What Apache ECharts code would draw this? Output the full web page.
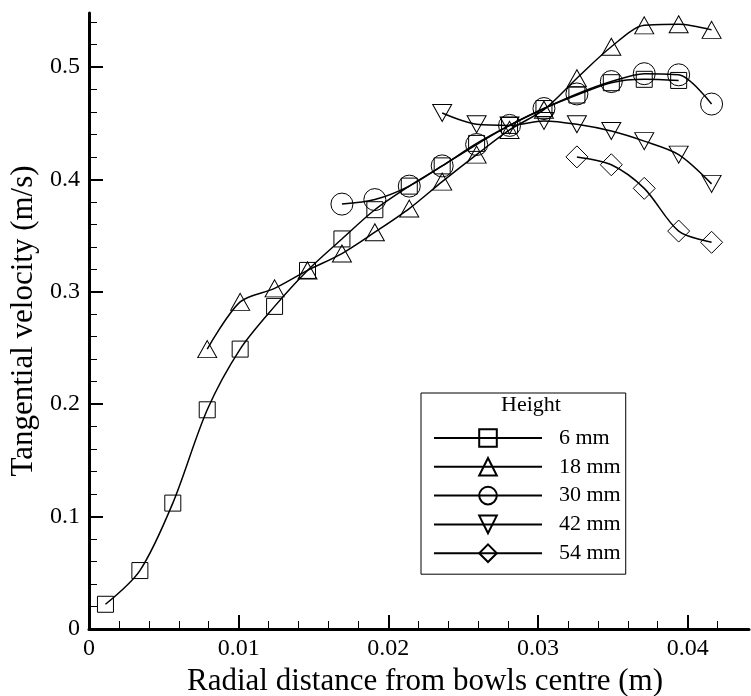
<!DOCTYPE html>
<html>
<head>
<meta charset="utf-8">
<script src="https://cdn.jsdelivr.net/npm/echarts@6/dist/echarts.min.js"></script>
<style>html,body{margin:0;padding:0;background:#fff}#c{width:751px;height:696px}</style>
</head>
<body>
<div id="c"></div>
<script>
// Radial positions of the measurement points (m)
const radial = [0.0011, 0.0034, 0.0056, 0.0079, 0.0101, 0.0124, 0.0146, 0.0169, 0.0191, 0.0214,
                0.0236, 0.0259, 0.0281, 0.0304, 0.0326, 0.0349, 0.0371, 0.0394, 0.0416];
// Tangential velocity (m/s) per height
const names = ['6 mm', '18 mm', '30 mm', '42 mm', '54 mm'];
const x6  = radial.slice(0, 18);
const v6  = [0.022, 0.052, 0.112, 0.195, 0.249, 0.287, 0.319, 0.347, 0.373, 0.394, 0.412, 0.432, 0.448, 0.463, 0.475, 0.486, 0.489, 0.488];
const x18 = radial.slice(3, 19);
const v18 = [0.249, 0.291, 0.303, 0.319, 0.334, 0.353, 0.374, 0.398, 0.422, 0.444, 0.462, 0.490, 0.518, 0.537, 0.538, 0.533];
const x30 = radial.slice(7, 19);
const v30 = [0.378, 0.382, 0.394, 0.412, 0.431, 0.448, 0.463, 0.476, 0.487, 0.494, 0.493, 0.467];
const x42 = radial.slice(10, 19);
const v42 = [0.459, 0.449, 0.448, 0.452, 0.449, 0.443, 0.434, 0.422, 0.396];
const x54 = radial.slice(14, 19);
const v54 = [0.420, 0.413, 0.392, 0.354, 0.344];

// Tick values
const xMajor = [0, 0.01, 0.02, 0.03, 0.04];
const xMinor = [0.002, 0.004, 0.006, 0.008, 0.012, 0.014, 0.016, 0.018, 0.022, 0.024, 0.026, 0.028, 0.032, 0.034, 0.036, 0.038, 0.042];
const yMajor = [0, 0.1, 0.2, 0.3, 0.4, 0.5];
const yMinor = [0.02, 0.04, 0.06, 0.08, 0.12, 0.14, 0.16, 0.18, 0.22, 0.24, 0.26, 0.28, 0.32, 0.34, 0.36, 0.38, 0.42, 0.44, 0.46, 0.48, 0.52, 0.54];

const FONT = 'Liberation Serif';
const X_MAX = 0.0441, Y_MAX = 0.548;

function pairs(xa, ya) { return xa.map((x, i) => [x, ya[i]]); }

const symbols = [
  {symbol: 'rect', size: 16, rot: 0},
  {symbol: 'triangle', size: [19, 17], rot: 0},
  {symbol: 'circle', size: 22, rot: 0},
  {symbol: 'triangle', size: [19, 17], rot: 180},
  {symbol: 'diamond', size: 22, rot: 0}
];
const datasets = [pairs(x6, v6), pairs(x18, v18), pairs(x30, v30), pairs(x42, v42), pairs(x54, v54)];

const series = datasets.map((d, i) => ({
  name: names[i],
  type: 'line',
  data: d,
  xAxisIndex: 0, yAxisIndex: 0,
  smooth: 0.3,
  symbol: symbols[i].symbol,
  symbolSize: symbols[i].size,
  symbolRotate: symbols[i].rot,
  showAllSymbol: true,
  lineStyle: {color: '#000', width: 1.5},
  itemStyle: {color: 'rgba(0,0,0,0)', borderColor: '#000', borderWidth: 1},
  emphasis: {disabled: true},
  animation: false
}));

const chart = echarts.init(document.getElementById('c'), null, {renderer: 'canvas'});
chart.setOption({
  animation: false,
  backgroundColor: '#fff',
  grid: {left: 89, right: 2, top: 13, bottom: 67, containLabel: false, outerBoundsMode: 'none'},
  xAxis: [
    {
      type: 'value', min: 0, max: X_MAX, position: 'bottom',
      name: 'Radial distance from bowls centre (m)', nameLocation: 'middle', nameGap: 35,
      nameTextStyle: {fontFamily: FONT, fontSize: 31, color: '#000', padding: [0, 0, 0, 12]},
      axisLine: {show: true, lineStyle: {color: '#000', width: 3}},
      axisTick: {show: true, inside: true, length: 14, lineStyle: {color: '#000', width: 2}, customValues: xMajor},
      axisLabel: {show: true, fontFamily: FONT, fontSize: 24, color: '#000', margin: 8, customValues: xMajor,
                  formatter: v => String(v)},
      splitLine: {show: false}
    },
    {
      type: 'value', min: 0, max: X_MAX, position: 'bottom',
      axisLine: {show: false},
      axisTick: {show: true, inside: true, length: 8, lineStyle: {color: '#000', width: 1}, customValues: xMinor},
      axisLabel: {show: false},
      splitLine: {show: false}
    }
  ],
  yAxis: [
    {
      type: 'value', min: 0, max: Y_MAX, position: 'left',
      name: 'Tangential velocity (m/s)', nameLocation: 'middle', nameGap: 42, nameRotate: 90,
      nameTextStyle: {fontFamily: FONT, fontSize: 31, color: '#000'},
      axisLine: {show: true, lineStyle: {color: '#000', width: 3}},
      axisTick: {show: true, inside: true, length: 14, lineStyle: {color: '#000', width: 2}, customValues: yMajor},
      axisLabel: {show: true, fontFamily: FONT, fontSize: 24, color: '#000', margin: 9, customValues: yMajor,
                  formatter: v => String(v)},
      splitLine: {show: false}
    },
    {
      type: 'value', min: 0, max: Y_MAX, position: 'left',
      axisLine: {show: false},
      axisTick: {show: true, inside: true, length: 8, lineStyle: {color: '#000', width: 1}, customValues: yMinor},
      axisLabel: {show: false},
      splitLine: {show: false}
    }
  ],
  legend: {
    orient: 'vertical',
    left: 421, top: 393,
    padding: [34, 5, 10, 12],
    itemWidth: 108, itemHeight: 22, itemGap: 6.8,
    borderColor: '#000', borderWidth: 1,
    backgroundColor: '#fff',
    textStyle: {fontFamily: FONT, fontSize: 22, color: '#000', padding: [0, 0, 0, 12]},
    data: names,
    selectedMode: false
  },
  graphic: [
    {type: 'text', x: 531, y: 394, z: 100,
     style: {text: 'Height', fontFamily: FONT, fontSize: 22, fill: '#000', textAlign: 'center', textVerticalAlign: 'top'}}
  ],
  series: series
});
</script>
</body>
</html>
